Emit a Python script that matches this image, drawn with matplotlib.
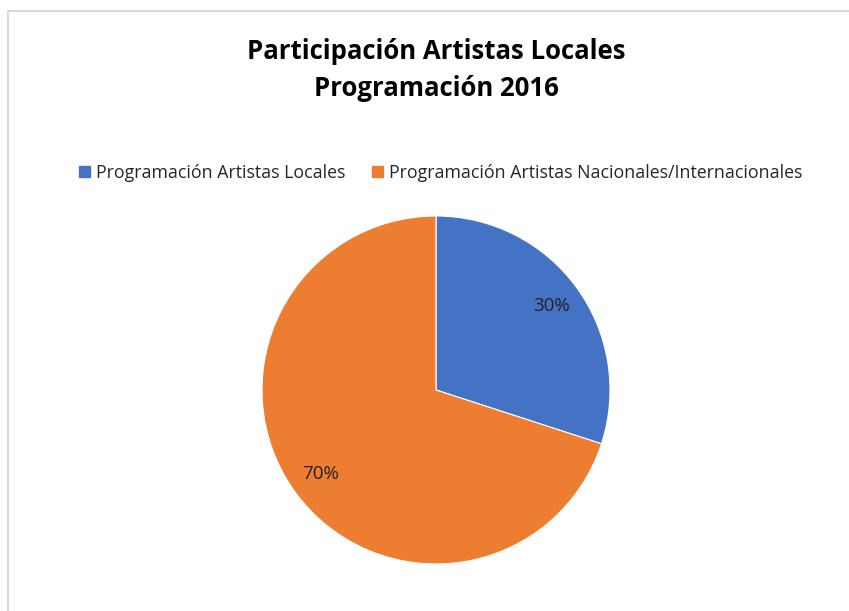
import matplotlib
matplotlib.use("Agg")
import matplotlib.pyplot as plt
from matplotlib.patches import Rectangle, Patch

categories = ["Programación Artistas Locales", "Programación Artistas Nacionales/Internacionales"]
values = [30, 70]
colors = ["#4472C4", "#ED7D31"]
title = "Participación Artistas Locales\nProgramación 2016"

plt.rcParams['font.family'] = ['Open Sans', 'DejaVu Sans']

W, H = 849, 611
fig = plt.figure(figsize=(W/100, H/100), dpi=100)
fig.patch.set_facecolor("white")

# chart border (extends beyond right and bottom edges)
fig.patches.append(Rectangle((8/W, -0.1), 1.2, 1 - 11/H + 0.1, transform=fig.transFigure,
                             fill=False, edgecolor="#D9D9D9", linewidth=1.5))

cx, cy, r = 436, 390, 174
ax = fig.add_axes([(cx - r)/W, 1 - (cy + r)/H, 2*r/W, 2*r/H])
wedges, texts, autotexts = ax.pie(values, colors=colors, startangle=90, counterclock=False,
                                  autopct=lambda p: f"{p:.0f}%", pctdistance=0.82,
                                  wedgeprops=dict(edgecolor="white", linewidth=0.8),
                                  textprops=dict(fontsize=13.5, color="#222222"))
ax.set_aspect("equal")
ax.set_xlim(-1, 1)
ax.set_ylim(-1, 1)

fig.text(436/W, 1 - 70/H, title, ha="center", va="center", fontsize=18.5,
         fontweight="bold", color="#000000", linespacing=1.5)

handles = [Patch(facecolor=c, edgecolor=c) for c in colors]
fig.legend(handles, categories, loc="center", bbox_to_anchor=(441/W, 1 - 173/H), ncol=2,
           frameon=False, fontsize=12.8, handlelength=0.6, handleheight=0.6,
           handletextpad=0.35, columnspacing=1.5, labelcolor="#262626")

fig.savefig("out.png", dpi=100, facecolor="white")
